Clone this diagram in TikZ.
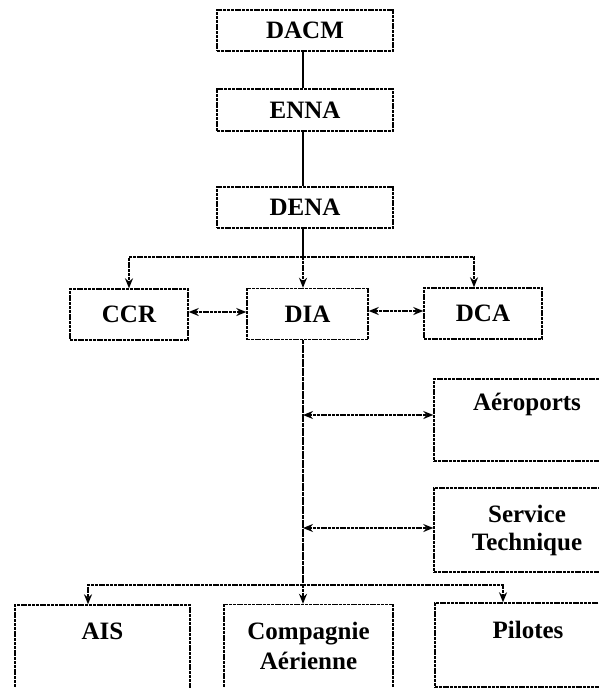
\documentclass[tikz,border=0pt]{standalone}
\usepackage{fontspec}
\setmainfont{Liberation Serif}
\usetikzlibrary{arrows.meta}

\tikzset{
	boite/.style={draw, line width=1.4pt, dash pattern=on 3pt off 0.8pt, font=\fontsize{25}{30}\selectfont\bfseries, align=center},
	texte/.style={font=\fontsize{25}{30}\selectfont\bfseries, align=center},
	lien/.style={line width=1.4pt},
	fleche/.style={lien, dash pattern=on 3pt off 0.8pt, -{Stealth[length=10pt,width=8pt]}},
	double/.style={fleche, {Stealth[length=10pt,width=8pt]}-{Stealth[length=10pt,width=8pt]}}
}

\begin{document}
\begin{tikzpicture}[x=1pt, y=-1pt]
		\clip (0,0) rectangle (599,688);
		\fill[white] (0,0) rectangle (599,688);

		\node[boite, minimum width=176pt, minimum height=41pt] (dacm) at (305,30.5) {DACM};
		\node[boite, minimum width=176pt, minimum height=42pt] (enna) at (305,110) {ENNA};
		\node[boite, minimum width=176pt, minimum height=41pt] (dena) at (305,207.5) {DENA};

		\node[boite, minimum width=118pt, minimum height=51pt] (ccr) at (129,314.5) {CCR};
		\node[boite, minimum width=121pt, minimum height=51pt] (dia) at (307.5,314) {DIA};
		\node[boite, minimum width=118pt, minimum height=51pt] (dca) at (483,313.5) {DCA};

		\node[boite, minimum width=186pt, minimum height=82pt] (aero) at (527,420) {};
		\node[texte, below=11pt] at (aero.north) {Aéroports};
		\node[boite, minimum width=186pt, minimum height=84pt] (serv) at (527,530) {Service\\[-2pt]Technique};

		\node[boite, minimum width=175pt, minimum height=88pt] (ais) at (102.5,649) {};
		\node[texte, below=15pt] at (ais.north) {AIS};
		\node[boite, minimum width=169pt, minimum height=88pt] (comp) at (308.5,648.5) {};
		\node[texte, below=15pt] at (comp.north) {Compagnie\\Aérienne};
		\node[boite, minimum width=186pt, minimum height=84pt] (pil) at (528,645) {};
		\node[texte, below=15pt] at (pil.north) {Pilotes};

		% liaisons
		\coordinate (nd1) at (303,257);
		\coordinate (nd2) at (303,585);
		\draw[lien] (dacm.south -| nd1) -- (enna.north -| nd1);
		\draw[lien] (enna.south -| nd1) -- (dena.north -| nd1);
		\draw[lien] (dena.south -| nd1) -- (nd1);
		\draw[fleche] (nd1) -| (ccr.north);
		\draw[fleche] (nd1) -- (dia.north -| nd1);
		\draw[fleche] (nd1) -| ([xshift=-9pt]dca.north);
		\draw[double] ([yshift=2.5pt]ccr.east) -- ([yshift=2.5pt]ccr.east -| dia.west);
		\draw[double] ([yshift=3pt]dia.east) -- ([yshift=3pt]dia.east -| dca.west);

		\draw[lien, dash pattern=on 4pt off 0.6pt] (dia.south -| nd2) -- (nd2);
		\path ([yshift=5pt]aero.west) coordinate (aw) ([yshift=2pt]serv.west) coordinate (sw);
		\foreach \c in {aw, sw}
			\draw[double] (nd2 |- \c) -- (\c);
		\draw[fleche] (nd2) -- (comp.north -| nd2);
		\draw[fleche] (nd2) -| ([xshift=-14.5pt]ais.north);
		\draw[fleche] (nd2) -| ([xshift=-25pt]pil.north);
	\end{tikzpicture}
\end{document}
